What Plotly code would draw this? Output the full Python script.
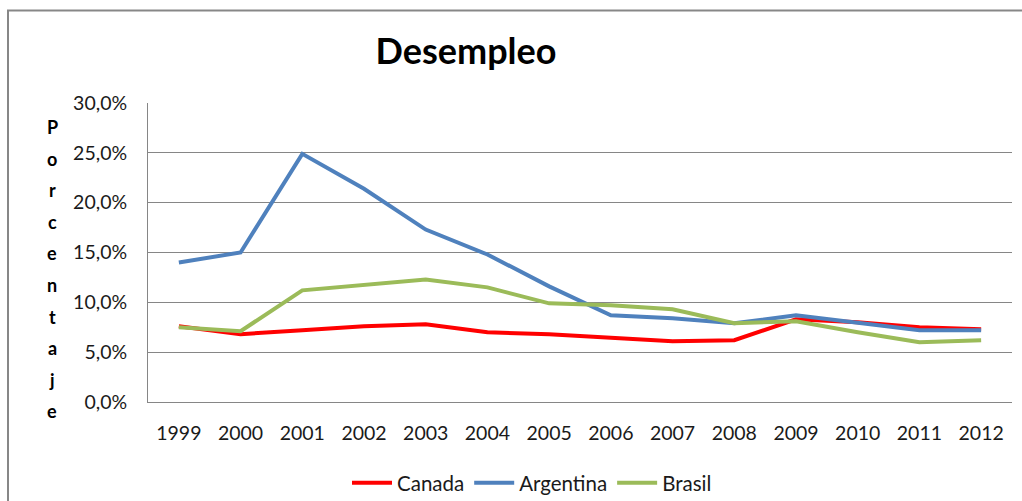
import plotly.graph_objects as go

years = ["1999", "2000", "2001", "2002", "2003", "2004", "2005", "2006", "2007", "2008", "2009", "2010", "2011", "2012"]
canada = [7.6, 6.8, 7.2, 7.6, 7.8, 7.0, 6.8, 6.4, 6.1, 6.2, 8.3, 8.0, 7.5, 7.3]
argentina = [14.0, 15.0, 24.9, 21.4, 17.3, 14.8, 11.6, 8.7, 8.4, 7.9, 8.7, 8.0, 7.2, 7.2]
brasil = [7.5, 7.1, 11.2, 11.7, 12.3, 11.5, 9.9, 9.7, 9.3, 7.9, 8.1, 7.0, 6.0, 6.2]
y_title = "Porcentaje"

series = [("Canada", canada, "#FF0000"), ("Argentina", argentina, "#4F81BD"), ("Brasil", brasil, "#9BBB59")]

FONT = "Lato, Carlito, Calibri, sans-serif"
TXT = "#1a1a1a"

fig = go.Figure()
for name, vals, col in series:
    fig.add_trace(go.Scatter(x=years, y=[v / 100 for v in vals], name=name, mode="lines",
                             line=dict(color=col, width=4)))

W, H = 1022, 501
L, R, T, B = 148, 10, 103, 99
pw, ph = W - L - R, H - T - B

fig.update_layout(
    width=W, height=H,
    margin=dict(l=L, r=R, t=T, b=B, autoexpand=False),
    paper_bgcolor="white", plot_bgcolor="white",
    separators=",.",
    font=dict(family=FONT, size=19.5, color=TXT),
    title=dict(text="<b>Desempleo</b>", x=466 / W, xref="container", xanchor="center",
               y=1 - 51 / H, yref="container", yanchor="middle",
               font=dict(family=FONT, size=36, color="black")),
    showlegend=True,
    legend=dict(orientation="h", x=(532 - L) / pw, xanchor="center",
                y=(T + ph - 483) / ph, yanchor="middle",
                font=dict(family=FONT, size=20.5, color=TXT), itemwidth=40),
    xaxis=dict(type="category", range=[-0.5, len(years) - 0.5], showgrid=False, showline=True,
               linecolor="#868686", linewidth=1, ticks="", ticklabelstandoff=14,
               tickfont=dict(size=19.5)),
    yaxis=dict(range=[0, 0.30], dtick=0.05, tickformat=".1%", showgrid=True, gridcolor="#868686",
               gridwidth=1, showline=True, linecolor="#868686", linewidth=1, zeroline=False,
               ticks="", ticklabelstandoff=16, tickfont=dict(size=19.5)),
)

# outer chart frame (left and top edges visible)
fx = (8 - L) / pw
fy = 1 + (T - 10.5) / ph
fig.add_shape(type="path", xref="paper", yref="paper",
              path=f"M {fx} -1 L {fx} {fy} L 1.5 {fy}",
              line=dict(color="#878787", width=2))

# stacked vertical axis title
for i, ch in enumerate(y_title):
    ypix = 127 + i * 31.6
    fig.add_annotation(text=f"<b>{ch}</b>", xref="paper", yref="paper",
                       x=(52 - L) / pw, y=(T + ph - ypix) / ph, xanchor="center", yanchor="middle",
                       showarrow=False, font=dict(family=FONT, size=18, color="black"))

fig.write_html("out.html", config={"displayModeBar": False},
               post_script="document.body.style.margin='0';document.body.style.overflow='hidden';")
